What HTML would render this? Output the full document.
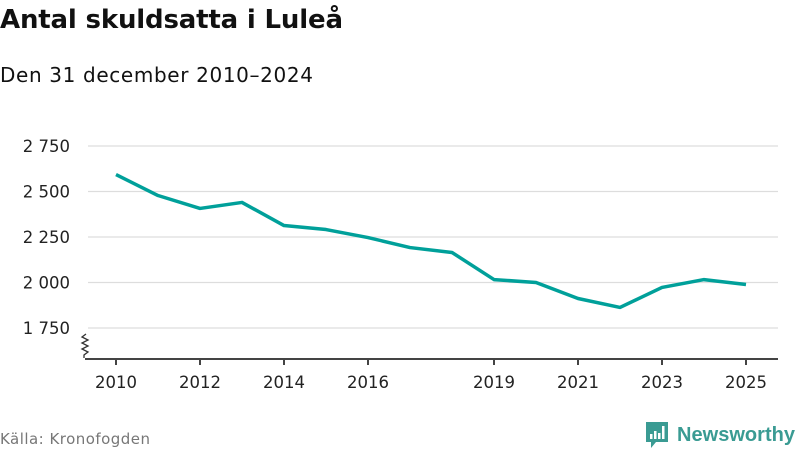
<!DOCTYPE html>
<html><head><meta charset="utf-8"><style>
body{margin:0;width:800px;height:450px;background:#fff;font-family:"DejaVu Sans","Liberation Sans",sans-serif;overflow:hidden}
</style></head><body>
<svg width="800" height="450" xmlns="http://www.w3.org/2000/svg">
<text x="0" y="28" font-size="26" font-weight="bold" fill="#111" textLength="343">Antal skuldsatta i Luleå</text>
<text x="0" y="82" font-size="20" fill="#111" textLength="313">Den 31 december 2010–2024</text>
<g id="grid"></g><g id="yl"></g><g id="xa"></g>
<path d="M86 334 l-4 3 l6 3 l-6 3 l6 3 l-6 3 l6 3 l-4 3 v3" fill="none" stroke="#333" stroke-width="1.3"/>
<line x1="85" y1="359" x2="778" y2="359" stroke="#444" stroke-width="2"/>
<path id="line" fill="none" stroke="#00a09a" stroke-width="3.5" stroke-linejoin="round"/>
<text x="0" y="444" font-size="15" fill="#777" textLength="150">Källa: Kronofogden</text>
<g>
<path d="M646 422 h22 v20 h-12 l-5 6 v-6 h-5z" fill="#3a9b93"/>
<rect x="650" y="434" width="2.5" height="5" fill="#fff"/><rect x="654" y="431" width="2.5" height="8" fill="#fff"/><rect x="658" y="433" width="2.5" height="6" fill="#fff"/><rect x="662" y="426" width="2.5" height="13" fill="#fff"/>
<text x="677" y="441" font-size="20" fill="#3a9b93" font-weight="bold" textLength="118" font-family="Liberation Sans, sans-serif">Newsworthy</text>
</g>
</svg>
<script>
const years=[2010,2011,2012,2013,2014,2015,2016,2017,2018,2019,2020,2021,2022,2023,2024,2025];
const values=[2593,2478,2407,2440,2313,2291,2247,2192,2165,2016,2000,1912,1863,1973,2016,1989];
const yTicks=[1750,2000,2250,2500,2750];
const yTickLabels=["1 750","2 000","2 250","2 500","2 750"];
const xTicks=[2010,2012,2014,2016,2019,2021,2023,2025];
const NS="http://www.w3.org/2000/svg";
const x=v=>116+(v-2010)*42;
const y=v=>328-(v-1750)*(182/1000);
function mk(t,a,p,txt){const e=document.createElementNS(NS,t);for(const k in a)e.setAttribute(k,a[k]);if(txt!=null)e.textContent=txt;p.appendChild(e);return e;}
const grid=document.getElementById('grid'),yl=document.getElementById('yl'),xa=document.getElementById('xa');
yTicks.forEach((t,i)=>{
 const l=mk('line',{x1:88,x2:778,y1:y(t),y2:y(t),stroke:'#ddd','stroke-width':1.3},grid);
 
 
 const tx=mk('text',{x:70,y:y(t)+6,'font-size':16.5,fill:'#222','text-anchor':'end'},yl,yTickLabels[i]);
 
 
});
xTicks.forEach(t=>{
 const l=mk('line',{x1:x(t),x2:x(t),y1:359,y2:365,stroke:'#444','stroke-width':2},xa);
 
 
 const tx=mk('text',{x:x(t),y:388,'font-size':16.5,fill:'#222','text-anchor':'middle'},xa,t);
 
 
});
document.getElementById('line').setAttribute('d',values.map((v,i)=>(i?'L':'M')+x(years[i])+' '+y(v)).join(' '));
</script>
</body></html>
